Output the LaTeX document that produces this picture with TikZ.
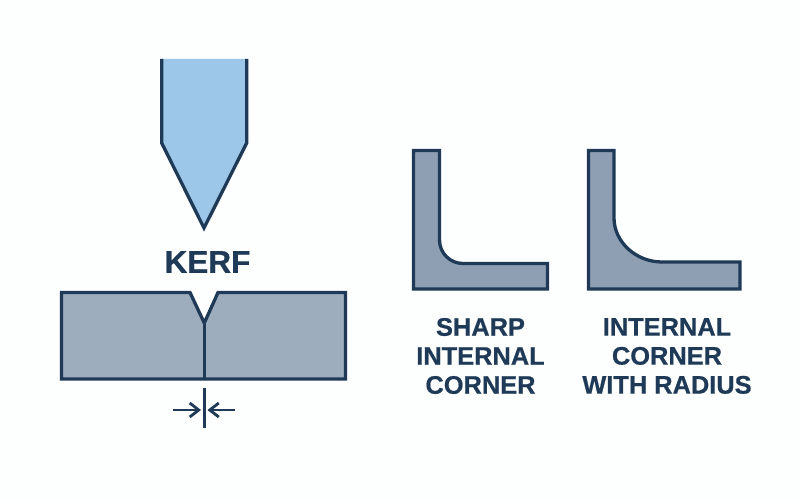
\documentclass[tikz,border=0pt]{standalone}
\usepackage{fontspec}
\setmainfont{Liberation Sans}
\newfontfamily\labelfont[BoldFeatures={FakeBold=0.6}]{Liberation Sans}
\usetikzlibrary{arrows.meta}
\definecolor{ink}{HTML}{1F3A57}
\definecolor{bladefill}{HTML}{9DC7E8}
\definecolor{blockfill}{HTML}{9EADBD}
\definecolor{lfill}{HTML}{8E9FB3}
\definecolor{paper}{HTML}{FDFEFE}
\tikzset{
  outline/.style={draw=ink,line width=3.3pt,line join=miter},
  caption/.style={text=ink,font=\labelfont\bfseries\fontsize{25.4}{29}\selectfont,align=center,inner sep=0pt},
  dimarrow/.style={draw=ink,line width=2.6pt,-{Straight Barb[length=9pt,width=14pt,line width=2.8pt]}}
}
\begin{document}
\begin{tikzpicture}[x=1pt,y=-1pt]
\fill[paper] (0,0) rectangle (800,500);
\useasboundingbox (0,0) rectangle (800,500);
% blade
\fill[bladefill] (161.7,59) -- (161.7,143) -- (204,228) -- (246.7,143) -- (246.7,59) -- cycle;
\draw[outline] (161.7,59) -- (161.7,143) -- (204,228) -- (246.7,143) -- (246.7,59);
\node[text=ink,font=\labelfont\bfseries\fontsize{31.5}{36}\selectfont,inner sep=0pt] (kerf) at (207.5,262) {KERF};
% block
\draw[outline,fill=blockfill] (61.5,292.5) -- (190,292.5) -- (204.3,323) -- (218,292.5) -- (345.5,292.5) -- (345.5,379) -- (61.5,379) -- cycle;
\coordinate (notch) at (204.3,323);
\coordinate (base) at (204.3,379);
\draw[draw=ink,line width=2.8pt] (notch) -- (base);
% dimension
\coordinate (dimtop) at (204.3,388);
\coordinate (dimbot) at (204.3,428);
\coordinate (la) at (173,410);
\coordinate (lb) at (201,410);
\coordinate (ra) at (235,410);
\coordinate (rb) at (207.5,410);
\draw[draw=ink,line width=2.6pt] (dimtop) -- (dimbot);
\draw[dimarrow] (la) -- (lb);
\draw[dimarrow] (ra) -- (rb);
% sharp corner
\draw[outline,fill=lfill] (413.5,150.5) -- (439.5,150.5) -- (439.5,240)
  .. controls (439.5,253) and (450,263.5) .. (463,263.5)
  -- (547.5,263.5) -- (547.5,289) -- (413.5,289) -- cycle;
% radius corner
\draw[outline,fill=lfill] (588.5,150.5) -- (614,150.5) -- (614,218)
  .. controls (614,242) and (636,262) .. (662,262)
  -- (740,262) -- (740,289) -- (588.5,289) -- cycle;
% captions
\node[caption] (sharp) at (480.5,356) {SHARP\\INTERNAL\\CORNER};
\node[caption] (radius) at (667,356) {INTERNAL\\CORNER\\WITH RADIUS};
\end{tikzpicture}
\end{document}
